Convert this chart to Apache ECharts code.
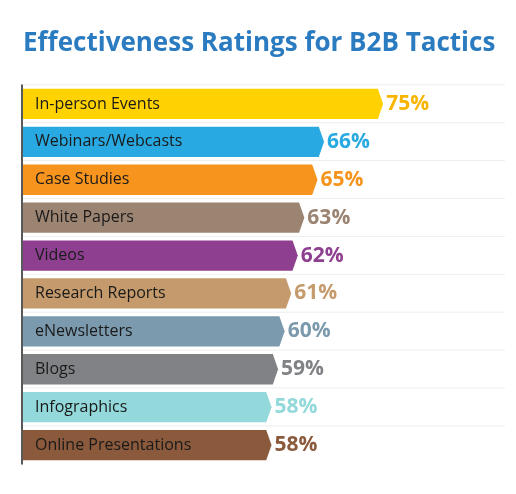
<!DOCTYPE html>
<html><head><meta charset="utf-8">
<script src="https://cdn.jsdelivr.net/npm/echarts@6/dist/echarts.min.js"></script>
<style>html,body{margin:0;background:#fff}#c{width:516px;height:494px}</style>
</head><body><div id="c"></div>
<script>
const tactics = ['In-person Events','Webinars/Webcasts','Case Studies','White Papers','Videos','Research Reports','eNewsletters','Blogs','Infographics','Online Presentations']
const ratings = [75,66,65,63,62,61,60,59,58,58]
const colors = ['#FFD200','#29A9E1','#F7941D','#9C8473','#8E3F8F','#C59B6D','#7B9AAE','#808285','#93D8DA','#8B5A3C']

let chart = echarts.init(document.getElementById('c'))
chart.setOption({
  animation:false,
  title:{text:'Effectiveness Ratings for B2B Tactics',left:18,top:26,
    textStyle:{color:'#2B7BC0',fontSize:26,fontWeight:'bold',fontFamily:'Open Sans'}},
  grid:{left:22,right:100,top:85,bottom:30},
  xAxis:{type:'value',min:20,max:80,show:false},
  yAxis:{type:'category',data:tactics,inverse:true,
    axisLine:{lineStyle:{color:'#222',width:1.5}},axisTick:{show:false},axisLabel:{show:false},
    splitLine:{show:false}},
  series:[{
    type:'custom',
    data:ratings.map((v,i)=>[v,i]),
    renderItem:function(params,api){
      let i=api.value(1)
      let s=api.coord([20,i]), e=api.coord([api.value(0),i])
      let h=api.size([0,1])[1]*0.8
      let x0=s[0]+1, x1=e[0], y=e[1], t=h/2
      return {type:'group',children:[
        {type:'line',shape:{x1:x0,y1:y-t-4,x2:505,y2:y-t-4},style:{stroke:'#eee',lineWidth:1}},
        {type:'polygon',shape:{points:[[x0,y-t],[x1-t*0.35,y-t],[x1,y],[x1-t*0.35,y+t],[x0,y+t]]},
          style:{fill:colors[i]}},
        {type:'text',x:x0+12,y:y,style:{text:tactics[i],fill:'#1a1a1a',fontSize:16,
          fontFamily:'Open Sans',verticalAlign:'middle'}},
        {type:'text',x:x1+3,y:y,style:{text:api.value(0)+'%',fill:colors[i]==='#FFD200'?'#F7B500':colors[i],
          fontSize:21,fontWeight:'bold',fontFamily:'Open Sans',verticalAlign:'middle'}}
      ]}
    }
  }]
})
</script></body></html>
